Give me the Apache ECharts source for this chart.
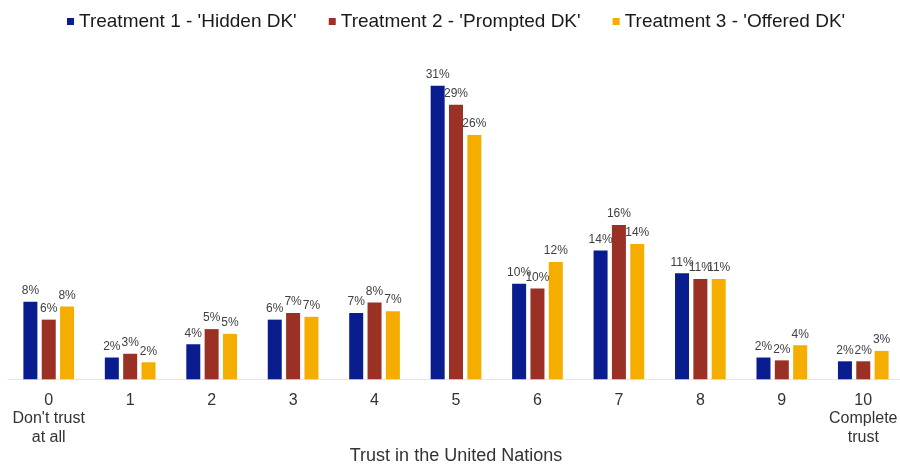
<!DOCTYPE html>
<html>
<head>
<meta charset="utf-8">
<script src="https://cdn.jsdelivr.net/npm/echarts@6/dist/echarts.min.js"></script>
<style>
  html, body { margin: 0; padding: 0; background: #ffffff; }
  #chart { width: 900px; height: 466px; }
</style>
</head>
<body>
<div id="chart"></div>
<script>
// Trust score categories (0–10) with end-point descriptions
const categories = ['0\nDon\'t trust\nat all', '1', '2', '3', '4', '5', '6', '7', '8', '9', '10\nComplete\ntrust'];

// Share of respondents (%) per treatment
const seriesNames = ["Treatment 1 - 'Hidden DK'", "Treatment 2 - 'Prompted DK'", "Treatment 3 - 'Offered DK'"];
const hiddenDK   = [8.2, 2.3, 3.7, 6.3, 7.0, 31.0, 10.1, 13.6, 11.2, 2.3, 1.9];
const promptedDK = [6.3, 2.7, 5.3, 7.0, 8.1, 29.0, 9.6, 16.3, 10.6, 2.0, 1.9];
const offeredDK  = [7.7, 1.8, 4.8, 6.6, 7.2, 25.8, 12.4, 14.3, 10.6, 3.6, 3.0];

const axisTitle = 'Trust in the United Nations';
const colors = ['#0a1d8e', '#9b3125', '#f5ae00'];

const FONT = '"Liberation Sans", Arial, sans-serif';

function barSeries(name, values, color) {
  return {
    name: name,
    type: 'bar',
    data: values,
    barWidth: 14,
    barGap: '31%',
    itemStyle: { color: color },
    label: {
      show: true,
      position: 'top',
      distance: 5,
      color: '#404040',
      fontFamily: FONT,
      fontSize: 12,
      formatter: p => Math.round(p.value) + '%'
    }
  };
}

const chart = echarts.init(document.getElementById('chart'), null, { renderer: 'canvas' });
chart.setOption({
  animation: false,
  backgroundColor: '#ffffff',
  textStyle: { fontFamily: FONT },
  legend: {
    top: 7,
    left: 62,
    icon: 'rect',
    itemWidth: 7,
    itemHeight: 7,
    itemGap: 32,
    textStyle: { fontFamily: FONT, fontSize: 19, color: '#1a1a1a' },
    data: seriesNames
  },
  grid: { left: 8, width: 896, top: 76.3, bottom: 86.7, outerBoundsMode: 'none', containLabel: false },
  xAxis: {
    type: 'category',
    data: categories,
    name: axisTitle,
    nameLocation: 'middle',
    nameGap: 68,
    nameMoveOverlap: false,
    nameTextStyle: { fontFamily: FONT, fontSize: 18, color: '#333333' },
    axisLine: { lineStyle: { color: '#e6e6e6', width: 1 } },
    axisTick: { show: false },
    axisLabel: {
      interval: 0,
      margin: 12,
      fontFamily: FONT,
      fontSize: 16,
      lineHeight: 18.5,
      color: '#333333'
    }
  },
  yAxis: {
    type: 'value',
    min: 0,
    max: 32,
    show: false,
    splitLine: { show: false }
  },
  series: [
    barSeries(seriesNames[0], hiddenDK, colors[0]),
    barSeries(seriesNames[1], promptedDK, colors[1]),
    barSeries(seriesNames[2], offeredDK, colors[2])
  ]
});
</script>
</body>
</html>
